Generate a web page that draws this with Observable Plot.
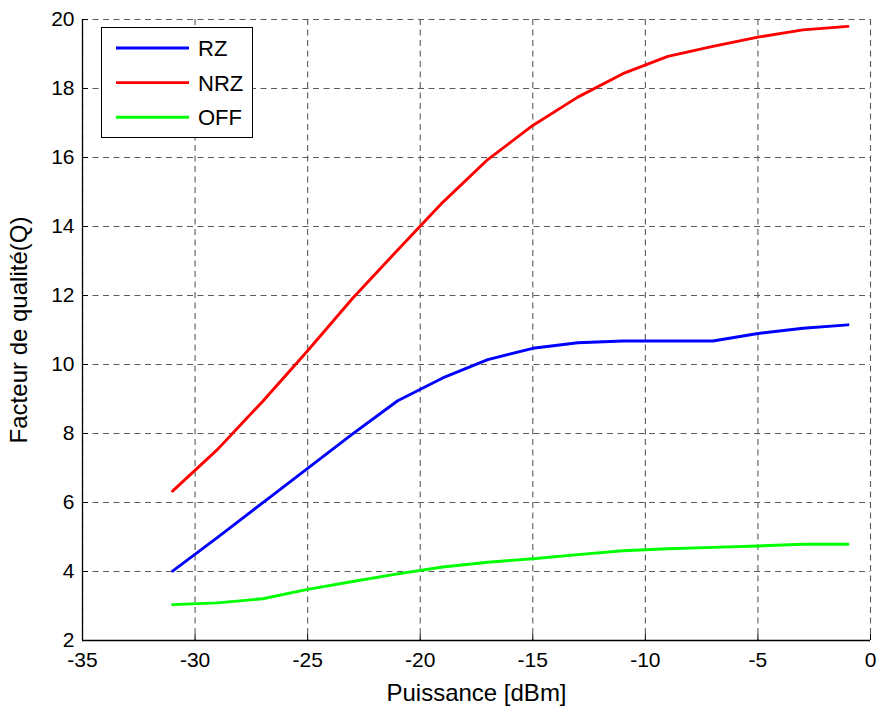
<!DOCTYPE html>
<html>
<head>
<meta charset="utf-8">
<script src="https://cdn.jsdelivr.net/npm/d3@7"></script>
<script src="https://cdn.jsdelivr.net/npm/@observablehq/plot@0.6"></script>
<style>
  html, body { margin: 0; padding: 0; background: #fff; }
  #wrap { position: relative; width: 882px; height: 706px; font-family: "Liberation Sans", Arial, sans-serif; }
  #legend { position: absolute; left: 101px; top: 27px; width: 152px; height: 111px; border: 1.3px solid #000; background: #fff; box-sizing: border-box; }
</style>
</head>
<body>
<div id="wrap"><div id="chart"></div><div id="legend"></div></div>
<script>
// Data
const power = [-31, -29, -27, -25, -23, -21, -19, -17, -15, -13, -11, -9, -7, -5, -3, -1];
const rz  = [4.01, 4.99, 5.99, 6.99, 7.99, 8.95, 9.61, 10.14, 10.47, 10.63, 10.68, 10.68, 10.68, 10.90, 11.05, 11.15];
const nrz = [6.33, 7.54, 8.93, 10.40, 11.92, 13.32, 14.70, 15.94, 16.93, 17.75, 18.43, 18.93, 19.22, 19.49, 19.70, 19.80];
const off = [3.04, 3.09, 3.21, 3.48, 3.71, 3.93, 4.13, 4.27, 4.37, 4.49, 4.60, 4.66, 4.70, 4.74, 4.79, 4.79];
const seriesNames = ["RZ", "NRZ", "OFF"];
const seriesColors = ["#0000ff", "#ff0000", "#00ff00"];
const xTicks = [-35, -30, -25, -20, -15, -10, -5, 0];
const yTicks = [2, 4, 6, 8, 10, 12, 14, 16, 18, 20];
const xLabel = "Puissance [dBm]";
const yLabel = "Facteur de qualité(Q)";

const seriesValues = [rz, nrz, off];
const rows = [];
seriesNames.forEach((name, i) => {
  power.forEach((p, j) => rows.push({series: name, p, q: seriesValues[i][j]}));
});

const gridStyle = {stroke: "#5a5a5a", strokeOpacity: 1, strokeWidth: 1.1, strokeDasharray: "6,4.5"};
const fmt = d => String(d);

const chart = Plot.plot({
  width: 882,
  height: 706,
  marginLeft: 82,
  marginRight: 12,
  marginTop: 19,
  marginBottom: 66,
  style: {fontFamily: "'Liberation Sans', Arial, sans-serif", fontSize: "21px", background: "#fff", color: "#000"},
  x: {domain: [-35, 0]},
  y: {domain: [2, 20]},
  color: {domain: seriesNames, range: seriesColors},
  marks: [
    Plot.gridX(xTicks, gridStyle),
    Plot.gridY(yTicks, gridStyle),
    Plot.ruleY([2], {stroke: "#000", strokeWidth: 1.3}),
    Plot.ruleX([-35], {stroke: "#000", strokeWidth: 1.3}),
    Plot.axisX(xTicks, {tickSize: 6, dy: -6, text: null, label: null, stroke: "#000"}),
    Plot.axisY(yTicks, {tickSize: 6, dx: 6, text: null, label: null, stroke: "#000"}),
    Plot.axisX(xTicks, {tickSize: 0, tickPadding: 12, fontSize: 21, tickFormat: fmt, label: null}),
    Plot.axisY(yTicks, {tickSize: 0, tickPadding: 8, fontSize: 21, tickFormat: fmt, label: null}),
    Plot.axisX([], {tickSize: 0, fontSize: 24, label: xLabel, labelAnchor: "center", labelOffset: 60, labelArrow: "none"}),
    Plot.axisY([], {tickSize: 0, fontSize: 24, label: yLabel, labelAnchor: "center", labelOffset: 73, labelArrow: "none"}),
    Plot.line(rows, {x: "p", y: "q", z: "series", stroke: "series", strokeWidth: 2.9, strokeLinejoin: "round"})
  ]
});
document.getElementById("chart").appendChild(chart);

// Legend
const lg = d3.select("#legend").append("svg").attr("width", 150).attr("height", 109)
  .style("position", "absolute").style("left", 0).style("top", 0);
seriesNames.forEach((name, i) => {
  const cy = 20 + i * 34.6;
  lg.append("line").attr("x1", 14).attr("x2", 87).attr("y1", cy).attr("y2", cy)
    .attr("stroke", seriesColors[i]).attr("stroke-width", 2.9);
  lg.append("text").attr("x", 96).attr("y", cy).attr("dy", "0.36em")
    .attr("font-size", 22).attr("font-family", "'Liberation Sans', Arial, sans-serif").text(name);
});
</script>
</body>
</html>
